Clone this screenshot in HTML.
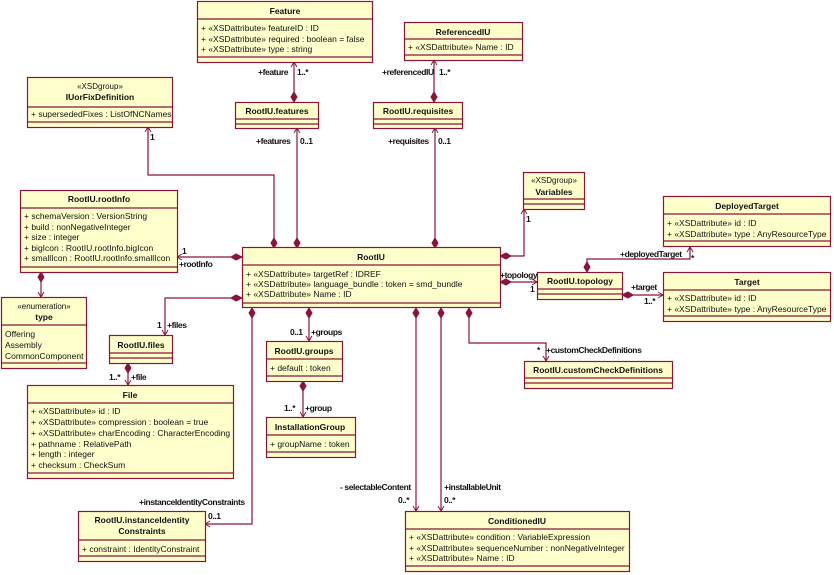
<!DOCTYPE html>
<html><head><meta charset="utf-8"><style>
html,body{margin:0;padding:0;background:#fff;width:834px;height:575px;overflow:hidden}
svg{display:block}
text{font-family:"Liberation Sans",sans-serif;font-size:8.5px;fill:#111}
.t{font-weight:bold;text-anchor:middle}
.s{text-anchor:middle;font-size:8px}
.l{font-weight:bold;font-size:8.5px;letter-spacing:-0.4px}
.b{fill:#ffffcc;stroke:#8b1538;stroke-width:1.2}
.ln{stroke:#8b1538;stroke-width:1.2;fill:none}
.d{fill:#8b1538;stroke:#8b1538}
.a{stroke:#8b1538;stroke-width:1;fill:none}
</style></head><body>
<svg width="834" height="575" viewBox="0 0 834 575">
<!-- connectors -->
<g class="ln">
<path d="M294 62V102"/><path d="M434 60V102"/>
<path d="M297 128V248"/><path d="M435 128V248"/>
<path d="M148 127V175H274V248"/>
<path d="M177 257H242"/>
<path d="M41 272V297"/>
<path d="M500 256H524V209"/>
<path d="M500 282H537"/>
<path d="M587 272V259H690V247"/>
<path d="M622 295H663"/>
<path d="M242 298H165V335"/>
<path d="M128 363V385"/>
<path d="M309 308V341"/>
<path d="M303 381V417"/>
<path d="M252 308V524H205"/>
<path d="M416 308V511"/>
<path d="M441 308V511"/>
<path d="M469 308V343H546V361"/>
</g>
<!-- diamonds -->
<g class="d">
<path d="M294 92l3 5-3 5-3-5z"/>
<path d="M434 92l3 5-3 5-3-5z"/>
<path d="M297 238l3 5-3 5-3-5z"/>
<path d="M435 238l3 5-3 5-3-5z"/>
<path d="M274 238l3 5-3 5-3-5z"/>
<path d="M231 257l5-3 6 3-6 3z"/>
<path d="M41 272l3 5-3 5-3-5z"/>
<path d="M500 256l6-3 5 3-5 3z"/>
<path d="M500 282l6-3 5 3-5 3z"/>
<path d="M587 262l3 5-3 5-3-5z"/>
<path d="M622 295l6-3 5 3-5 3z"/>
<path d="M231 298l5-3 6 3-6 3z"/>
<path d="M128 363l3 5-3 5-3-5z"/>
<path d="M309 308l3 5-3 5-3-5z"/>
<path d="M303 381l3 5-3 5-3-5z"/>
<path d="M252 308l3 5-3 5-3-5z"/>
<path d="M416 308l3 5-3 5-3-5z"/>
<path d="M441 308l3 5-3 5-3-5z"/>
<path d="M469 308l3 5-3 5-3-5z"/>
</g>
<!-- open arrowheads -->
<g class="a">
<path d="M291 67l3-5 3 5"/><path d="M431 65l3-5 3 5"/>
<path d="M294 133l3-5 3 5"/><path d="M432 133l3-5 3 5"/>
<path d="M145 132l3-5 3 5"/>
<path d="M182 254l-5 3 5 3"/>
<path d="M38 292l3 5 3-5"/>
<path d="M521 214l3-5 3 5"/>
<path d="M532 279l5 3-5 3"/>
<path d="M687 252l3-5 3 5"/>
<path d="M658 292l5 3-5 3"/>
<path d="M162 330l3 5 3-5"/>
<path d="M125 380l3 5 3-5"/>
<path d="M306 336l3 5 3-5"/>
<path d="M300 412l3 5 3-5"/>
<path d="M210 521l-5 3 5 3"/>
<path d="M413 506l3 5 3-5"/>
<path d="M438 506l3 5 3-5"/>
<path d="M543 356l3 5 3-5"/>
</g>
<!-- labels -->
<text class="l" x="258" y="75">+feature</text><text class="l" x="297" y="75">1..*</text>
<text class="l" x="382" y="75">+referencedIU</text><text class="l" x="439" y="75">1..*</text>
<text class="l" x="256" y="144">+features</text><text class="l" x="300" y="144">0..1</text>
<text class="l" x="388" y="144">+requisites</text><text class="l" x="438" y="144">0..1</text>
<text class="l" x="150" y="140">1</text>
<text class="l" x="182" y="254">1</text><text class="l" x="179" y="267">+rootInfo</text>
<text class="l" x="526" y="222">1</text>
<text class="l" x="500" y="278">+topology</text><text class="l" x="530" y="292">1</text>
<text class="l" x="620" y="257">+deployedTarget</text><text class="l" x="691" y="261">*</text>
<text class="l" x="631" y="290">+target</text><text class="l" x="644" y="304">1..*</text>
<text class="l" x="157" y="328">1</text><text class="l" x="167" y="328">+files</text>
<text class="l" x="109" y="380">1..*</text><text class="l" x="131" y="380">+file</text>
<text class="l" x="290" y="335">0..1</text><text class="l" x="311" y="335">+groups</text>
<text class="l" x="284" y="411">1..*</text><text class="l" x="305" y="411">+group</text>
<text class="l" x="139" y="505">+instanceIdentityConstraints</text><text class="l" x="208" y="519">0..1</text>
<text class="l" x="340" y="490">- selectableContent</text><text class="l" x="398" y="503">0..*</text>
<text class="l" x="444" y="490">+installableUnit</text><text class="l" x="444" y="503">0..*</text>
<text class="l" x="537" y="353">*</text><text class="l" x="546" y="353">+customCheckDefinitions</text>
<!-- Feature -->
<rect class="b" x="197.5" y="1.5" width="175" height="61"/>
<path class="ln" d="M197 19H372M197 57H372"/>
<text class="t" x="285" y="14">Feature</text>
<text x="201" y="31">+ «XSDattribute» featureID : ID</text>
<text x="201" y="42">+ «XSDattribute» required : boolean = false</text>
<text x="201" y="52">+ «XSDattribute» type : string</text>
<!-- ReferencedIU -->
<rect class="b" x="404.5" y="22.5" width="118" height="38"/>
<path class="ln" d="M404 39H522M404 55H522"/>
<text class="t" x="463" y="35">ReferencedIU</text>
<text x="408" y="50">+ «XSDattribute» Name : ID</text>
<!-- IUorFixDefinition -->
<rect class="b" x="27.5" y="77.5" width="145" height="50"/>
<path class="ln" d="M27 107H172M27 122H172"/>
<text class="s" x="100" y="89">«XSDgroup»</text>
<text class="t" x="100" y="100">IUorFixDefinition</text>
<text x="31" y="117">+ supersededFixes : ListOfNCNames</text>
<!-- RootIU.features -->
<rect class="b" x="235.5" y="102.5" width="83" height="26"/>
<path class="ln" d="M235 119H318M235 124H318"/>
<text class="t" x="277" y="114">RootIU.features</text>
<!-- RootIU.requisites -->
<rect class="b" x="373.5" y="102.5" width="89" height="26"/>
<path class="ln" d="M373 119H462M373 124H462"/>
<text class="t" x="418" y="114">RootIU.requisites</text>
<!-- Variables -->
<rect class="b" x="523.5" y="172.5" width="61" height="37"/>
<path class="ln" d="M523 199H584M523 204H584"/>
<text class="s" x="554" y="183">«XSDgroup»</text>
<text class="t" x="554" y="195">Variables</text>
<!-- rootInfo -->
<rect class="b" x="20.5" y="190.5" width="157" height="82"/>
<path class="ln" d="M20 208H177M20 267H177"/>
<text class="t" x="99" y="202">RootIU.rootInfo</text>
<text x="24" y="219">+ schemaVersion : VersionString</text>
<text x="24" y="230">+ build : nonNegativeInteger</text>
<text x="24" y="240">+ size : integer</text>
<text x="24" y="251">+ bigIcon : RootIU.rootInfo.bigIcon</text>
<text x="24" y="261">+ smallIcon : RootIU.rootInfo.smallIcon</text>
<!-- DeployedTarget -->
<rect class="b" x="663.5" y="196.5" width="167" height="50"/>
<path class="ln" d="M663 214H830M663 241H830"/>
<text class="t" x="747" y="209">DeployedTarget</text>
<text x="667" y="226">+ «XSDattribute» id : ID</text>
<text x="667" y="237">+ «XSDattribute» type : AnyResourceType</text>
<!-- RootIU -->
<rect class="b" x="242.5" y="247.5" width="258" height="60"/>
<path class="ln" d="M242 265H500M242 303H500"/>
<text class="t" x="371" y="260">RootIU</text>
<text x="246" y="277">+  «XSDattribute» targetRef : IDREF</text>
<text x="246" y="287">+  «XSDattribute» language_bundle : token = smd_bundle</text>
<text x="246" y="297">+  «XSDattribute» Name : ID</text>
<!-- topology -->
<rect class="b" x="537.5" y="272.5" width="85" height="27"/>
<path class="ln" d="M537 289H622M537 294H622"/>
<text class="t" x="580" y="284">RootIU.topology</text>
<!-- Target -->
<rect class="b" x="663.5" y="272.5" width="167" height="49"/>
<path class="ln" d="M663 290H830M663 316H830"/>
<text class="t" x="747" y="285">Target</text>
<text x="667" y="301">+ «XSDattribute» id : ID</text>
<text x="667" y="312">+ «XSDattribute» type : AnyResourceType</text>
<!-- type -->
<rect class="b" x="1.5" y="297.5" width="85" height="71"/>
<path class="ln" d="M1 325H86M1 363H86"/>
<text class="s" x="44" y="309">«enumeration»</text>
<text class="t" x="44" y="320">type</text>
<text x="5" y="337">Offering</text>
<text x="5" y="348">Assembly</text>
<text x="5" y="359">CommonComponent</text>
<!-- files -->
<rect class="b" x="109.5" y="335.5" width="63" height="28"/>
<path class="ln" d="M109 353H172M109 358H172"/>
<text class="t" x="141" y="348">RootIU.files</text>
<!-- groups -->
<rect class="b" x="266.5" y="341.5" width="76" height="40"/>
<path class="ln" d="M266 359H342M266 376H342"/>
<text class="t" x="304" y="354">RootIU.groups</text>
<text x="270" y="371">+ default : token</text>
<!-- customCheck -->
<rect class="b" x="524.5" y="361.5" width="148" height="27"/>
<path class="ln" d="M524 378H672M524 383H672"/>
<text class="t" x="598" y="373">RootIU.customCheckDefinitions</text>
<!-- File -->
<rect class="b" x="27.5" y="385.5" width="206" height="93"/>
<path class="ln" d="M27 403H233M27 473H233"/>
<text class="t" x="130" y="398">File</text>
<text x="31" y="414">+ «XSDattribute» id : ID</text>
<text x="31" y="425">+ «XSDattribute» compression : boolean = true</text>
<text x="31" y="436">+ «XSDattribute» charEncoding : CharacterEncoding</text>
<text x="31" y="447">+ pathname : RelativePath</text>
<text x="31" y="457">+ length : integer</text>
<text x="31" y="468">+ checksum : CheckSum</text>
<!-- InstallationGroup -->
<rect class="b" x="266.5" y="417.5" width="89" height="40"/>
<path class="ln" d="M266 435H355M266 452H355"/>
<text class="t" x="310" y="430">InstallationGroup</text>
<text x="270" y="447">+ groupName : token</text>
<!-- instanceIdentityConstraints -->
<rect class="b" x="78.5" y="511.5" width="127" height="50"/>
<path class="ln" d="M78 540H205M78 556H205"/>
<text class="t" x="142" y="523">RootIU.instanceIdentity</text>
<text class="t" x="142" y="534">Constraints</text>
<text x="82" y="552">+ constraint : IdentityConstraint</text>
<!-- ConditionedIU -->
<rect class="b" x="405.5" y="511.5" width="224" height="60"/>
<path class="ln" d="M405 529H629M405 566H629"/>
<text class="t" x="517" y="524">ConditionedIU</text>
<text x="409" y="540">+ «XSDattribute» condition : VariableExpression</text>
<text x="409" y="551">+ «XSDattribute» sequenceNumber : nonNegativeInteger</text>
<text x="409" y="561">+ «XSDattribute» Name : ID</text>
</svg>
</body></html>
